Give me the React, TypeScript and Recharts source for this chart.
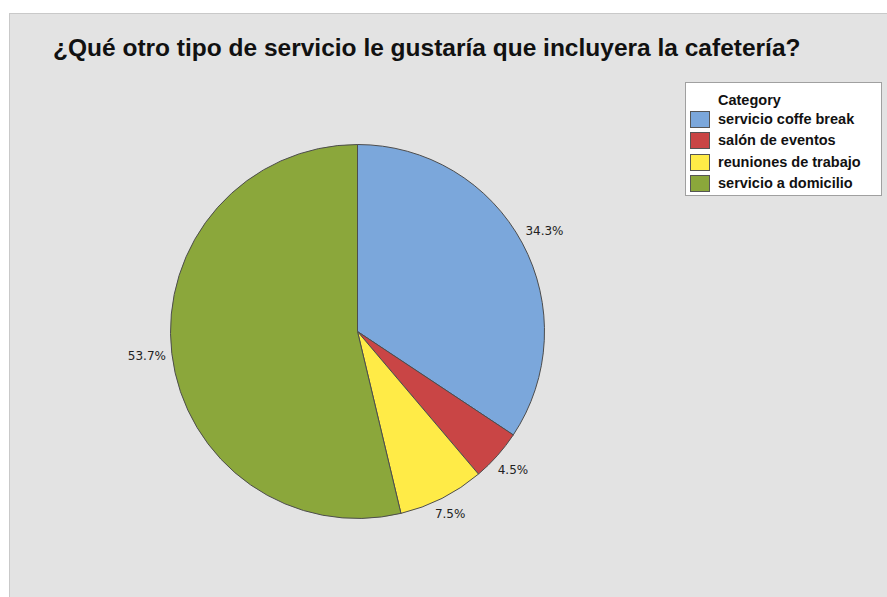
import React from 'react';
import { PieChart, Pie, Cell } from 'recharts';

const categories = ['servicio coffe break', 'salón de eventos', 'reuniones de trabajo', 'servicio a domicilio'];
const counts = [23, 3, 5, 36];
const colors = ['#7BA7DB', '#C94545', '#FFEB47', '#8BA73B'];

const data = categories.map((name, i) => ({ name, value: counts[i] }));

const RADIAN = Math.PI / 180;

// label box sits just outside the slice edge, centred on the mid angle
const renderLabel = (props: any) => {
  const { cx, cy, midAngle, outerRadius, percent } = props;
  const txt = (percent * 100).toFixed(1) + '%';
  const c = Math.cos(-midAngle * RADIAN);
  const s = Math.sin(-midAngle * RADIAN);
  const w = txt.length * 7.4;
  const h = 12;
  const d = outerRadius + 6 + (Math.abs(c) * w) / 2 + (Math.abs(s) * h) / 2;
  return (
    <text
      x={cx + d * c}
      y={cy + d * s}
      textAnchor="middle"
      dominantBaseline="central"
      fill="#222"
      fontSize={12}
      fontFamily="'DejaVu Sans', sans-serif"
    >
      {txt}
    </text>
  );
};

export default function App() {
  return (
    <div style={{ position: 'absolute', left: 0, top: 0, width: 887, height: 597, background: '#fff', overflow: 'hidden' }}>
      <div
        style={{
          position: 'absolute',
          left: 9,
          top: 13,
          width: 890,
          height: 600,
          background: '#e3e3e3',
          border: '1px solid #c9c9c9',
          boxSizing: 'border-box',
        }}
      />
      <div
        style={{
          position: 'absolute',
          left: 53,
          top: 34,
          fontFamily: "'Liberation Sans', Arial, sans-serif",
          fontWeight: 'bold',
          fontSize: 24.5,
          color: '#111',
          whiteSpace: 'nowrap',
        }}
      >
        ¿Qué otro tipo de servicio le gustaría que incluyera la cafetería?
      </div>

      <div style={{ position: 'absolute', left: 0, top: 0 }}>
        <PieChart width={887} height={597} margin={{ top: 0, right: 0, bottom: 0, left: 0 }}>
          <Pie
            data={data}
            dataKey="value"
            nameKey="name"
            cx={357.5}
            cy={331.5}
            outerRadius={187}
            startAngle={90}
            endAngle={-270}
            stroke="#4d4d4d"
            strokeWidth={1}
            label={renderLabel}
            labelLine={false}
            isAnimationActive={false}
          >
            {data.map((d, i) => (
              <Cell key={d.name} fill={colors[i]} />
            ))}
          </Pie>
        </PieChart>
      </div>

      <div
        style={{
          position: 'absolute',
          left: 685,
          top: 82,
          width: 197,
          height: 114,
          background: '#fff',
          border: '1px solid #a0a0a0',
          boxSizing: 'border-box',
          fontFamily: "'Liberation Sans', Arial, sans-serif",
          fontWeight: 'bold',
          fontSize: 14.5,
          color: '#111',
        }}
      >
        <div style={{ position: 'absolute', left: 32, top: 9, lineHeight: '17px' }}>Category</div>
        {categories.map((name, i) => (
          <div
            key={name}
            style={{ position: 'absolute', left: 4, top: 28 + i * 21.3, height: 17, display: 'flex', alignItems: 'center' }}
          >
            <div
              style={{
                width: 20,
                height: 17,
                background: colors[i],
                border: '1px solid #555',
                boxSizing: 'border-box',
                marginRight: 8,
              }}
            />
            <span style={{ whiteSpace: 'nowrap', lineHeight: '17px' }}>{name}</span>
          </div>
        ))}
      </div>
    </div>
  );
}
